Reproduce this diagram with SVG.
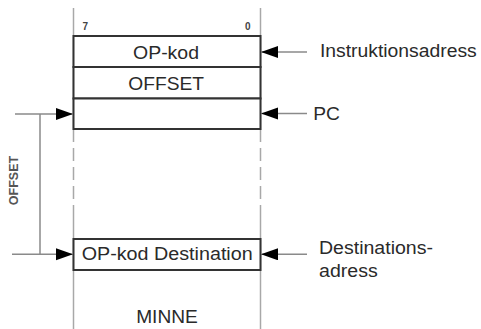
<svg xmlns="http://www.w3.org/2000/svg" width="481" height="329" viewBox="0 0 481 329">
<style>
.bg{fill:#fff}
.mem{stroke:#a8a8a8;stroke-width:1.5;fill:none}
.cell{fill:#fff;stroke:#333;stroke-width:2}
.conn{stroke:#8a8a8a;stroke-width:1.5;fill:none}
.t{font-family:"Liberation Sans",Arial,sans-serif;font-size:17.5px;fill:#2a2a2a}
.c{text-anchor:middle}
.bit{font-family:"Liberation Sans",Arial,sans-serif;font-size:10px;font-weight:bold;fill:#444}
.vt{font-family:"Liberation Sans",Arial,sans-serif;font-size:12.5px;font-weight:bold;fill:#555;text-anchor:middle}
</style>
<defs>
<marker id="ah" markerUnits="userSpaceOnUse" markerWidth="18" markerHeight="13" refX="17" refY="6" orient="auto">
<path d="M0,0 L17,6 L0,12 Z" fill="#000"/>
</marker>
</defs>
<rect class="bg" x="0" y="0" width="481" height="329"/>
<g id="memory">
<line class="mem" x1="73.5" y1="8" x2="73.5" y2="129"/>
<line class="mem" x1="260.5" y1="8" x2="260.5" y2="129"/>
<line class="mem" x1="73.5" y1="129" x2="73.5" y2="199" stroke-dasharray="13 6"/>
<line class="mem" x1="260.5" y1="129" x2="260.5" y2="199" stroke-dasharray="13 6"/>
<line class="mem" x1="73.5" y1="205" x2="73.5" y2="329"/>
<line class="mem" x1="260.5" y1="205" x2="260.5" y2="329"/>
<text class="bit" x="82.5" y="30">7</text>
<text class="bit" x="245" y="30">0</text>
<text class="t c" x="167" y="322.7" textLength="61.6" lengthAdjust="spacingAndGlyphs">MINNE</text>
</g>
<g id="opkod">
<rect class="cell" x="73.5" y="36" width="187" height="31"/>
<text class="t c" x="166" y="59" textLength="66" lengthAdjust="spacingAndGlyphs">OP-kod</text>
</g>
<g id="offset">
<rect class="cell" x="73.5" y="67" width="187" height="31.5"/>
<text class="t c" x="166.2" y="89.5" textLength="75.7" lengthAdjust="spacingAndGlyphs">OFFSET</text>
</g>
<g id="pc-cell">
<rect class="cell" x="73.5" y="98.5" width="187" height="30.5"/>
</g>
<g id="destination">
<rect class="cell" x="73.5" y="239" width="187" height="31"/>
<text class="t c" x="167.2" y="260" textLength="171" lengthAdjust="spacingAndGlyphs">OP-kod Destination</text>
</g>
<g id="label-instr">
<text class="t" x="320" y="57.3" textLength="156.7" lengthAdjust="spacingAndGlyphs">Instruktionsadress</text>
</g>
<g id="label-pc">
<text class="t" x="313.3" y="120" textLength="26.7" lengthAdjust="spacingAndGlyphs">PC</text>
</g>
<g id="label-dest">
<text class="t" x="319" y="254.3" textLength="114" lengthAdjust="spacingAndGlyphs">Destinations-</text>
<text class="t" x="319" y="277.3" textLength="58.7" lengthAdjust="spacingAndGlyphs">adress</text>
</g>
<g id="label-offset">
<text class="vt" transform="translate(18.3,180.5) rotate(-90)" x="0" y="0">OFFSET</text>
</g>
<g id="connectors">
<line class="conn" x1="307" y1="52" x2="261" y2="52" marker-end="url(#ah)"/>
<line class="conn" x1="307" y1="113.5" x2="261" y2="113.5" marker-end="url(#ah)"/>
<line class="conn" x1="307" y1="254.3" x2="261" y2="254.3" marker-end="url(#ah)"/>
<line class="conn" x1="15" y1="114" x2="73" y2="114" marker-end="url(#ah)"/>
<line class="conn" x1="40" y1="114" x2="40" y2="254.3"/>
<line class="conn" x1="12" y1="254.3" x2="73" y2="254.3" marker-end="url(#ah)"/>
</g>
</svg>
